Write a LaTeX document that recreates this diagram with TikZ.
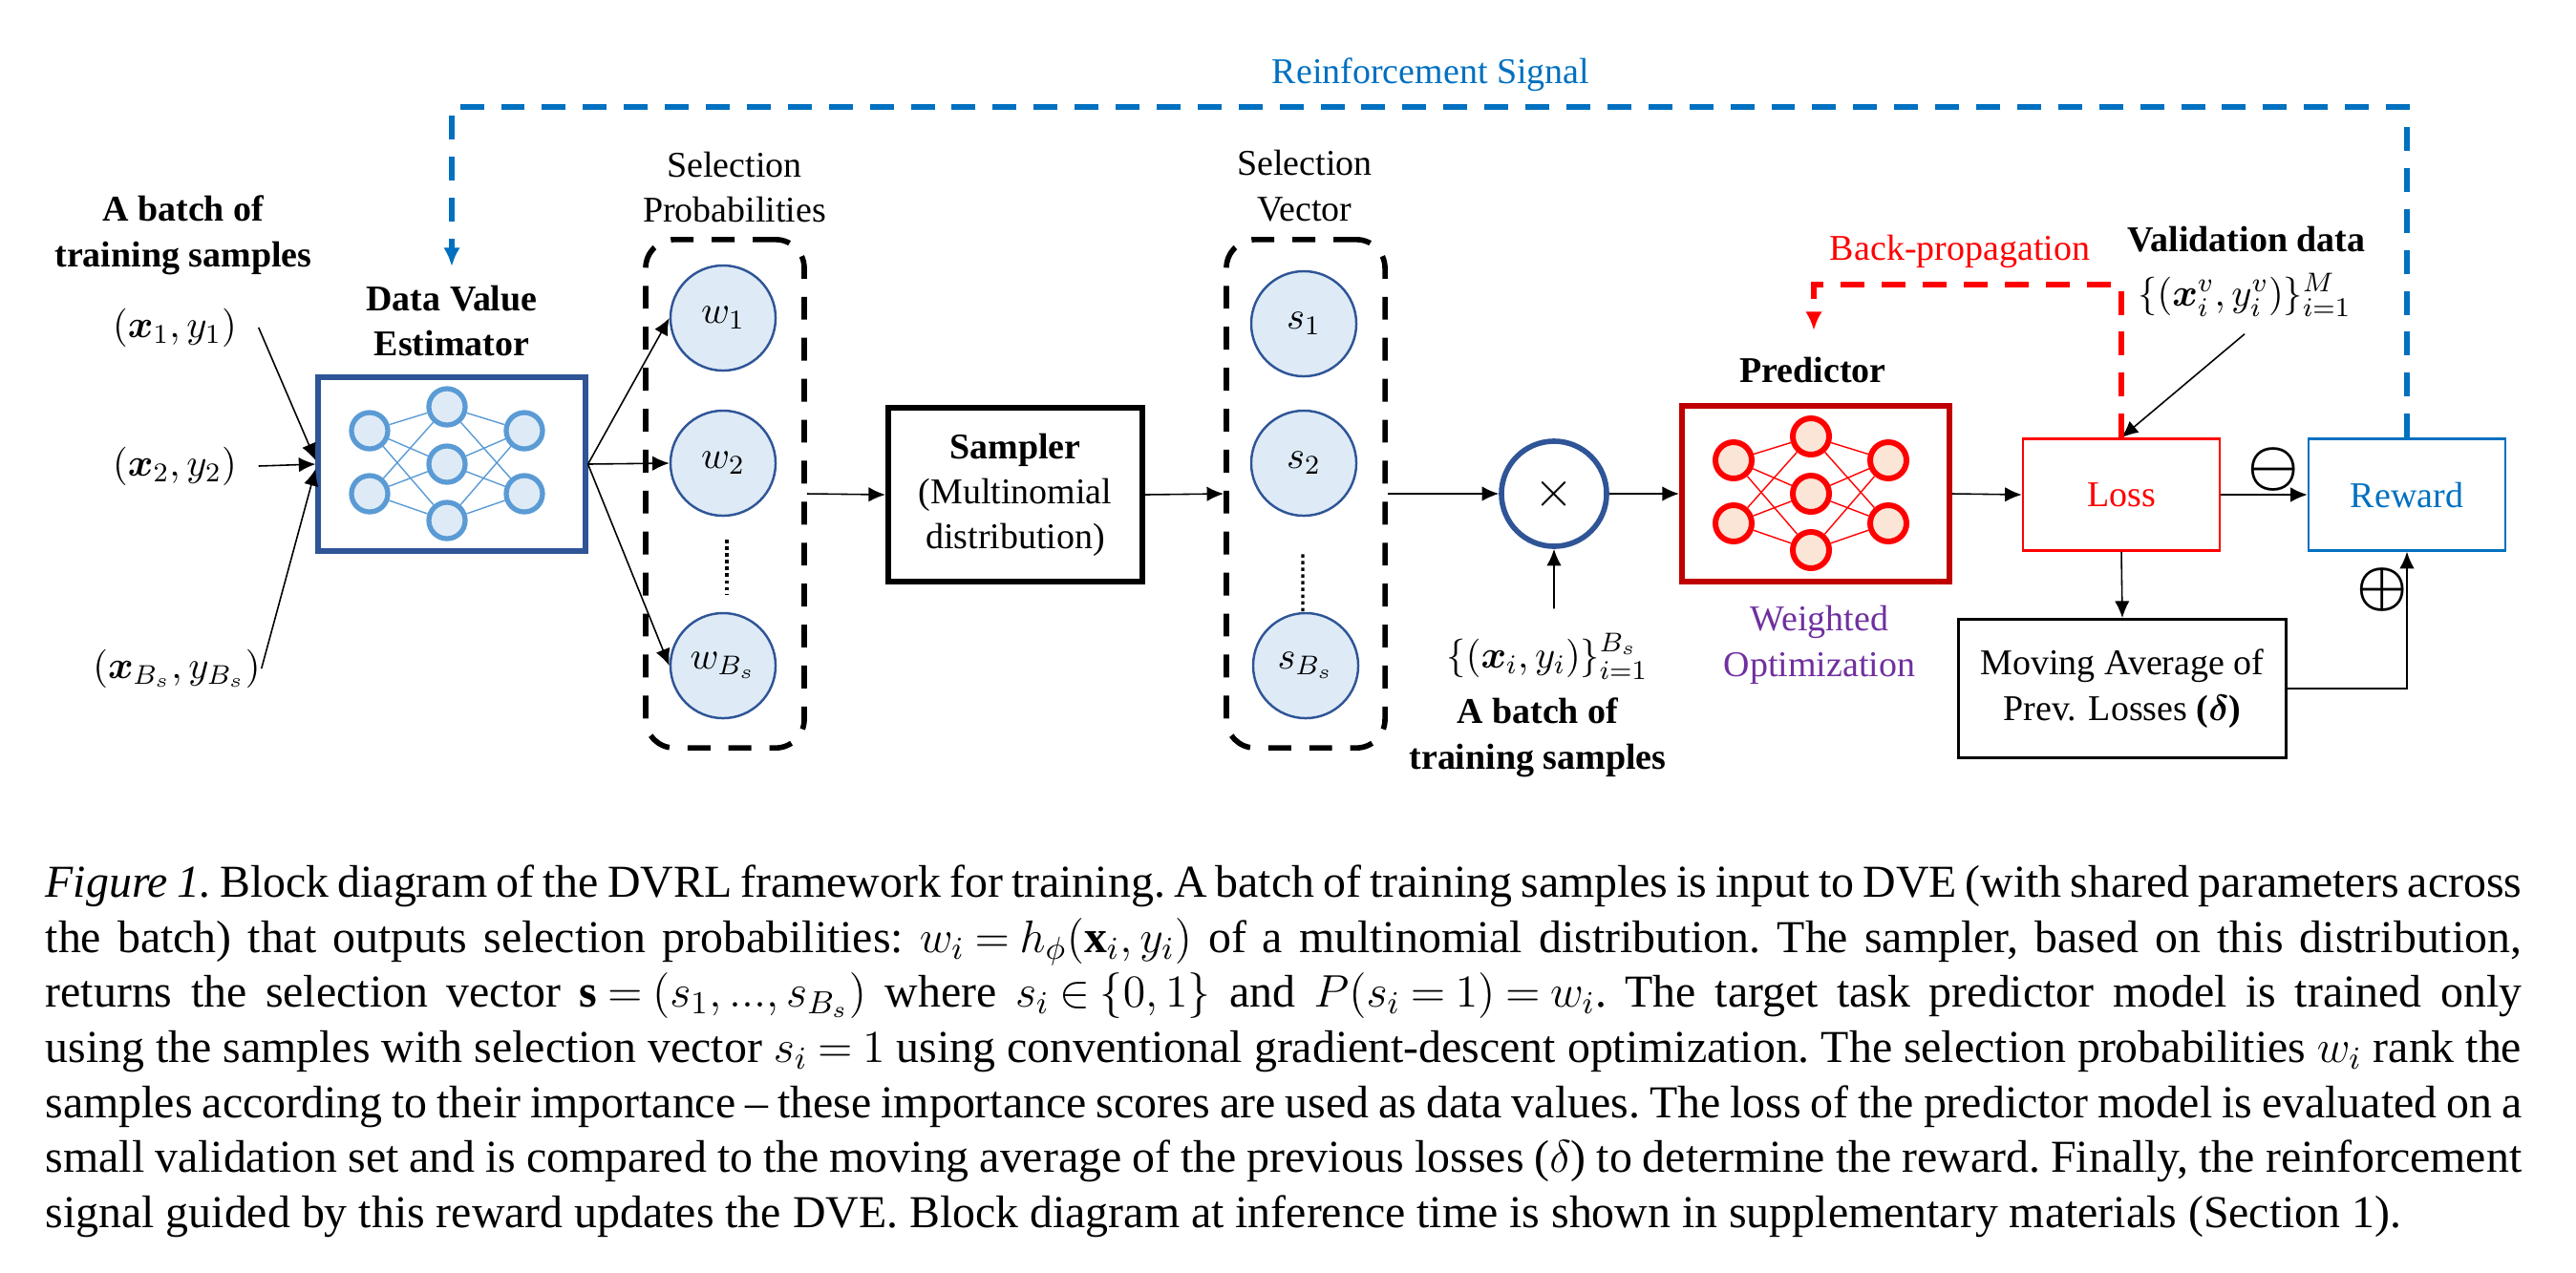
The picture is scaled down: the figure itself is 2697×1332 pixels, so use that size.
\documentclass[tikz,border=0pt]{standalone}
\usepackage{fix-cm}
\usepackage{amsmath}
\usepackage{fontspec}
\setmainfont{Liberation Serif}
\usetikzlibrary{arrows.meta}

\definecolor{dveblue}{HTML}{2F5597}
\definecolor{linkblue}{HTML}{5B9BD5}
\definecolor{paleblue}{HTML}{DEEBF7}
\definecolor{sigblue}{HTML}{0070C0}
\definecolor{predred}{HTML}{C00000}
\definecolor{palered}{HTML}{FBE5D6}
\definecolor{optpurple}{HTML}{7030A0}

\tikzset{
  >={Latex[length=5pt,width=4.4pt]},
  txt/.style={align=center,inner sep=0pt,font=\fontsize{10.8}{13.6}\selectfont},
  mathtxt/.style={inner sep=0pt,font=\fontsize{11.5}{13.6}\selectfont},
  link/.style={line width=.45pt,->},
  unitnode/.style={circle,draw=dveblue,fill=paleblue,line width=.7pt,minimum size=1.1cm,inner sep=0pt,font=\fontsize{11.5}{13.6}\selectfont},
  dashbox/.style={draw,line width=1.6pt,dash pattern=on 6.8pt off 5.4pt,rounded corners=.3cm,minimum width=1.66cm,minimum height=5.32cm},
  bigbox/.style={draw,line width=1.7pt,align=center,font=\fontsize{10.8}{13.4}\selectfont},
  thinbox/.style={draw,align=center,minimum width=2.06cm,minimum height=1.17cm,font=\fontsize{10.8}{13.6}\selectfont},
  netblue/.style={circle,draw=linkblue,fill=paleblue,line width=1.5pt,minimum size=.38cm,inner sep=0pt},
  netred/.style={circle,draw=red,fill=palered,line width=1.7pt,minimum size=.38cm,inner sep=0pt},
  sigline/.style={line width=1.45pt,dash pattern=on 7.1pt off 5.1pt,-{Latex[length=5.6pt,width=5pt]}},
  dotline/.style={line width=.9pt,dash pattern=on 1pt off 1pt},
}

\newcommand{\netpic}[4]{
  \begin{scope}[shift={#2}]
    \foreach \n/\px/\py in {a/-86/-35,b/-86/31,c/-5/-60,d/-5/0,e/-5/59,f/76/-35,g/76/31}
      \node[#3] (#1\n) at (\px,\py) {};
    \foreach \p in {a,b,f,g}
      \foreach \q in {c,d,e}
        \draw[#4,line width=.4pt] (#1\p) -- (#1\q);
  \end{scope}
}

\begin{document}
\begin{tikzpicture}[x=.01cm,y=-.01cm]
  \useasboundingbox (0,0) rectangle (2697,1332);

  % inputs
  \node[txt] (batchtop) at (192,246) {\textbf{A batch of}\\\textbf{training samples}};
  \node[mathtxt,minimum width=1.74cm] (inp1) at (183,343) {$(\boldsymbol{x}_1,y_1)$};
  \node[mathtxt,minimum width=1.74cm] (inp2) at (183,488) {$(\boldsymbol{x}_2,y_2)$};
  \node[mathtxt,minimum width=1.76cm] (inp3) at (185,700) {$(\boldsymbol{x}_{B_s},y_{B_s})$};

  % data value estimator
  \node[txt] (dvetitle) at (473,336) {\textbf{Data Value}\\\textbf{Estimator}};
  \node[bigbox,draw=dveblue,minimum width=2.79cm,minimum height=1.82cm] (dve) at (473,486) {};
  \netpic{dn}{(473,486)}{netblue}{linkblue}

  \draw[link] (inp1.east) -- ([yshift=.04cm]dve.west);
  \draw[link] (inp2.east) -- (dve.west);
  \draw[link] (inp3.east) -- ([yshift=-.05cm]dve.west);

  % selection probabilities
  \node[txt] (probtitle) at (769,196) {Selection\\Probabilities};
  \node[dashbox] (probbox) at (759,517) {};
  \node[unitnode] (w1) at (757,333) {$w_1$};
  \node[unitnode] (w2) at (757,485) {$w_2$};
  \node[unitnode] (w3) at (757,697) {$w_{B_s}$};
  \draw[dotline] ([xshift=.04cm,yshift=-.24cm]w2.south) -- ([xshift=.04cm,yshift=.18cm]w3.north);

  \draw[link] (dve.east) -- (w1.west);
  \draw[link] (dve.east) -- (w2.west);
  \draw[link] (dve.east) -- (w3.west);

  % sampler
  \node[bigbox,minimum width=2.66cm,minimum height=1.81cm] (sampler) at (1063,518) {\textbf{Sampler}\\(Multinomial\\distribution)};
  \draw[link] (probbox.east) -- (sampler.west);

  % selection vector
  \node[txt] (vectitle) at (1366,195) {Selection\\Vector};
  \node[dashbox] (vecbox) at (1367,517) {};
  \node[unitnode] (s1) at (1365,339) {$s_1$};
  \node[unitnode] (s2) at (1365,485) {$s_2$};
  \node[unitnode] (s3) at (1367,697) {$s_{B_s}$};
  \draw[dotline] ([xshift=-.01cm,yshift=-.39cm]s2.south) -- ([xshift=-.03cm]s3.north);
  \draw[link] (sampler.east) -- (vecbox.west);

  % weighting
  \node[circle,draw=dveblue,line width=1.6pt,minimum size=1.1cm,inner sep=0pt,font=\fontsize{15}{15}\selectfont] (mult) at (1627,517) {$\times$};
  \draw[link] (vecbox.east) -- (mult.west);
  \node[mathtxt,minimum height=.98cm] (batchset) at (1620,687) {$\{(\boldsymbol{x}_i,y_i)\}_{i=1}^{B_s}$};
  \node[txt] (batchlow) at (1610,772) {\textbf{A batch of}\\\textbf{training samples}};
  \draw[link] ([xshift=.07cm]batchset.north) -- (mult.south);

  % predictor
  \node[txt] (predtitle) at (1898,387) {\textbf{Predictor}};
  \node[bigbox,draw=predred,minimum width=2.8cm,minimum height=1.83cm] (pred) at (1901,517) {};
  \netpic{pn}{(1901,517)}{netred}{red}
  \node[txt,text=optpurple] (predopt) at (1905,675) {Weighted\\Optimization};
  \draw[link] (mult.east) -- (pred.west);

  % loss and reward
  \node[thinbox,draw=red,text=red,line width=.7pt] (loss) at (2221,518) {Loss};
  \node[thinbox,draw=sigblue,text=sigblue,line width=.7pt] (reward) at (2520,518) {Reward};
  \node[thinbox,line width=.85pt,minimum width=3.42cm,minimum height=1.45cm] (mavg) at (2222,721) {Moving Average of\\Prev. Losses \textbf{($\boldsymbol{\delta}$)}};
  \node[inner sep=0pt,font=\fontsize{17}{17}\selectfont] (minus) at (2380,492) {$\boldsymbol{\ominus}$};
  \node[inner sep=0pt,font=\fontsize{17}{17}\selectfont] (plus) at (2494,618) {$\boldsymbol{\oplus}$};
  \draw[link] (pred.east) -- (loss.west);
  \draw[link] (loss.east) -- (reward.west);
  \draw[link] (loss.south) -- (mavg.north);
  \draw[link] (mavg.east) -| (reward.south);

  % validation data
  \node[txt] (valtitle) at (2352,251) {\textbf{Validation data}};
  \node[mathtxt,minimum height=.8cm] (valset) at (2350,309) {$\{(\boldsymbol{x}_i^v,y_i^v)\}_{i=1}^{M}$};
  \draw[link] (valset.south) -- (loss.north);

  % back-propagation
  \node[txt,text=red] (bptext) at (2052,263) {Back-propagation};
  \coordinate (bpturn) at (1899,298);
  \coordinate (bptip) at (1899,346);
  \draw[sigline,draw=red] (loss.north) |- (bpturn) -- (bptip);

  % reinforcement signal
  \node[txt,text=sigblue] (sigtext) at (1498,78) {Reinforcement Signal};
  \coordinate (sigturn) at (473,112);
  \coordinate (sigtip) at (473,279);
  \draw[sigline,draw=sigblue] (reward.north) |- (sigturn) -- (sigtip);

  % caption
  \node[anchor=north west,inner sep=0pt,text width=25.91cm,align=justify,font=\fontsize{13.6}{16.4}\selectfont\frenchspacing] (caption) at (47,905) {%
    \thickmuskip=4mu\relax
    \textit{Figure 1.} Block diagram of the DVRL framework for training. A batch of training samples is input to DVE (with shared parameters across\linebreak
    the batch) that outputs selection probabilities: $w_i = h_\phi(\mathbf{x}_i, y_i)$ of a multinomial distribution. The sampler, based on this distribution,\linebreak
    returns the selection vector $\mathbf{s} = (s_1, ..., s_{B_s})$ where $s_i \in \{0,1\}$ and $P(s_i = 1) = w_i$. The target task predictor model is trained only\linebreak
    using the samples with selection vector $s_i = 1$ using conventional gradient-descent optimization. The selection probabilities $w_i$ rank the\linebreak
    samples according to their importance -- these importance scores are used as data values. The loss of the predictor model is evaluated on a\linebreak
    small validation set and is compared to the moving average of the previous losses ($\delta$) to determine the reward. Finally, the reinforcement\linebreak
    signal guided by this reward updates the DVE. Block diagram at inference time is shown in supplementary materials (Section 1).};

\end{tikzpicture}
\end{document}
